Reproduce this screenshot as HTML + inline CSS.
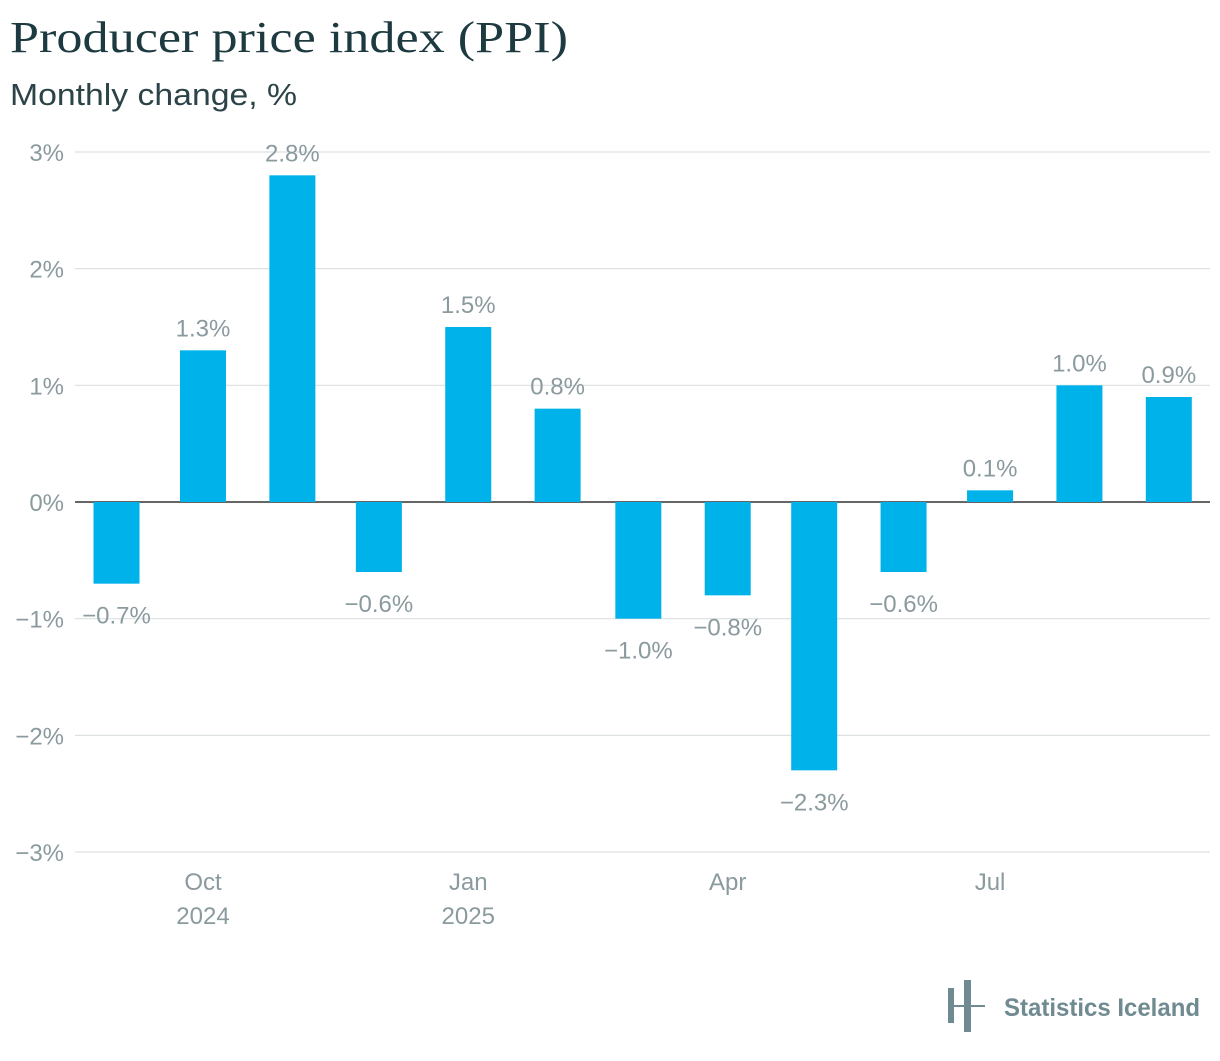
<!DOCTYPE html>
<html><head><meta charset="utf-8"><style>
body{margin:0;background:#fff;width:1220px;height:1056px;overflow:hidden}
svg text{font-family:"Liberation Sans",sans-serif}
</style></head><body>
<svg width="1220" height="1056">
<text x="10" y="52" font-size="44" fill="#1d3a40" textLength="558" lengthAdjust="spacingAndGlyphs" style="font-family:'Liberation Serif',serif">Producer price index (PPI)</text>
<text x="10" y="105" font-size="31" fill="#2c4348" textLength="287" lengthAdjust="spacingAndGlyphs">Monthly change, %</text>
<g id="grid"></g><g id="bars"></g><g id="labels"></g><g id="xaxis"></g>
<g>
<rect x="948" y="988" width="6" height="35" fill="#6f8a90"/>
<rect x="964" y="980" width="7" height="52" fill="#6f8a90"/>
<rect x="948" y="1005" width="37" height="2" fill="#6f8a90"/>
<text x="1004" y="1016" font-size="25" fill="#6f8a90" font-weight="bold" textLength="196" lengthAdjust="spacingAndGlyphs">Statistics Iceland</text>
</g>
</svg>
<script>
const months=["2024-09","2024-10","2024-11","2024-12","2025-01","2025-02","2025-03","2025-04","2025-05","2025-06","2025-07","2025-08","2025-09"];
const values=[-0.7,1.3,2.8,-0.6,1.5,0.8,-1.0,-0.8,-2.3,-0.6,0.1,1.0,0.9];
const yTicks=[3,2,1,0,-1,-2,-3];
const xTickDates=["2024-10","2025-01","2025-04","2025-07"];
const xTickLabels=[["Oct","2024"],["Jan","2025"],["Apr",""],["Jul",""]];
const NS="http://www.w3.org/2000/svg";
const y=v=>502-v*116.67;
const base=Date.UTC(2024,9,1);
const x=m=>{const [a,b]=m.split("-").map(Number);return 203+(Date.UTC(a,b-1,1)-base)/864e5*2.883;};
function mk(t,at,parent){const e=document.createElementNS(NS,t);for(const k in at)e.setAttribute(k,at[k]);document.getElementById(parent).appendChild(e);return e;}
const fmt=v=>(v<0?"\u2212":"")+Math.abs(v).toFixed(1)+"%";
yTicks.forEach(t=>{
 const l=mk("line",{x1:75,x2:1210,y1:y(t),y2:y(t),stroke:t===0?"#333":"#dde1e2","stroke-width":t===0?1.5:1.2},"grid");
 
 
 const tx=mk("text",{x:64,y:y(t)+9,"text-anchor":"end","font-size":24,fill:"#8a9a9e"},"grid");
 tx.textContent=(t<0?"\u2212":"")+Math.abs(t)+"%";
 
 
});
months.forEach((m,i)=>{
 const v=values[i],cx=x(m);
 const r=mk("rect",{x:cx-23,width:46,y:Math.min(y(v),y(0)),height:Math.abs(y(v)-y(0)),fill:"#00b2ea"},"bars");
 
 
 const t=mk("text",{x:cx,y:v>=0?y(v)-14:y(v)+40,"text-anchor":"middle","font-size":24,fill:"#8a9a9e"},"labels");
 t.textContent=fmt(v);
 
 
});
xTickDates.forEach((d,i)=>{
 xTickLabels[i].forEach((s,j)=>{
  if(!s)return;
  const t=mk("text",{x:x(d),y:890+j*34,"text-anchor":"middle","font-size":24,fill:"#8a9a9e"},"xaxis");
  t.textContent=s;
  
  
 });
});
</script>
</body></html>
